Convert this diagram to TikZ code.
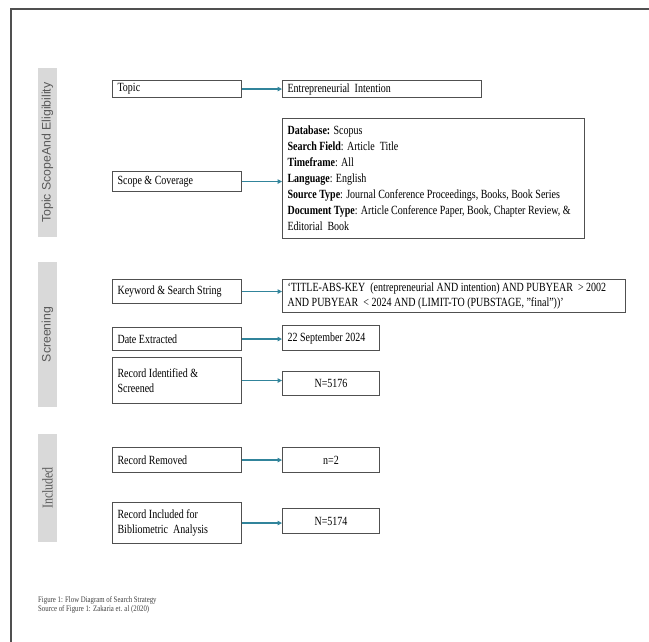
\documentclass[tikz,border=0pt]{standalone}
\usepackage{fontspec}
\setmainfont{Liberation Serif}[FakeStretch=0.8]
\newfontfamily\arialf{Liberation Sans}
\usetikzlibrary{arrows.meta}
\definecolor{tealarrow}{HTML}{31849B}
\definecolor{bargray}{HTML}{D9D9D9}
\definecolor{bartext}{HTML}{595959}
\definecolor{boxline}{HTML}{505050}
\definecolor{captext}{HTML}{404040}
\begin{document}
\begin{tikzpicture}[x=1pt,y=-1pt,
  basebox/.style={draw=boxline, line width=1.1pt, anchor=north west, inner xsep=5pt, inner ysep=0pt,
    font=\fontsize{12.5}{14.5}\selectfont, align=flush left},
  lbox/.style={basebox, text width=119pt},
  cbox/.style={basebox, text width=87pt, align=flush center},
  arr/.style={draw=tealarrow, line width=1.5pt, -{Triangle[length=4.5pt,width=4.5pt]}},
  bar/.style={fill=bargray, rotate=90, minimum height=19pt, inner sep=0pt, text=bartext},
]
\useasboundingbox (0,0) rectangle (649,642);
\draw[boxline, line width=1.2pt] (649,9) -- (11,9) -- (11,642);

% side bars
\node[bar, minimum width=169pt, font=\arialf\fontsize{12.3}{14}\selectfont] (b1) at (47.5,152.5) {Topic ScopeAnd Eligibility};
\node[bar, minimum width=145pt, font=\arialf\fontsize{12.3}{14}\selectfont] (b2) at (47.5,334.5) {Screening};
\node[bar, minimum width=108pt, font=\fontsize{15}{16}\selectfont] (b3) at (47.5,488) {Included};

% left boxes
\node[lbox, minimum height=17pt] (topic) at (112,80) {Topic};
\node[lbox, minimum height=20pt] (scopec) at (112,171) {Scope \& Coverage};
\node[lbox, minimum height=24pt] (kwl) at (112,279) {Keyword \& Search String};
\node[lbox, minimum height=23pt] (datel) at (112,327) {Date Extracted};
\node[lbox, minimum height=46pt] (recid) at (112,357) {Record Identified \&\\Screened};
\node[lbox, minimum height=25pt] (recrem) at (112,447) {Record Removed};
\node[lbox, minimum height=41pt] (recinc) at (112,502) {Record Included for\\Bibliometric\ \ Analysis};

% right boxes
\node[basebox, text width=189pt, minimum height=17pt] (ent) at (282,80) {Entrepreneurial\ \ Intention};
\node[basebox, text width=292pt, minimum height=120pt, font=\fontsize{12.5}{16}\selectfont] (scope) at (282,118)
 {\textbf{Database:} Scopus\\
  \textbf{Search Field}: Article\ \ Title\\
  \textbf{Timeframe}: All\\
  \textbf{Language}: English\\
  \textbf{Source Type}: Journal Conference Proceedings, Books, Book Series\\
  \textbf{Document Type}: Article Conference Paper, Book, Chapter Review, \&\\
  Editorial\ \ Book};
\node[basebox, text width=333pt, minimum height=33pt] (kw) at (282,279)
 {`TITLE-ABS-KEY\ \ (entrepreneurial AND intention) AND PUBYEAR\ \ > 2002\\
  AND PUBYEAR\ \ < 2024 AND (LIMIT-TO (PUBSTAGE, "final"))'};
\node[basebox, text width=87pt, minimum height=25pt] (date) at (282,325) {22 September 2024};
\node[cbox, minimum height=24pt] (n1) at (282,371) {N=5176};
\node[cbox, minimum height=25pt] (n2) at (282,447) {n=2};
\node[cbox, minimum height=25pt] (n3) at (282,508) {N=5174};

% arrows
\draw[arr] (topic.east) -- (ent.west |- topic.east);
\draw[arr] (scopec.east) -- (scope.west |- scopec.east);
\draw[arr] (kwl.east) -- (kw.west |- kwl.east);
\draw[arr] (datel.east) -- (date.west |- datel.east);
\draw[arr] (recid.east) -- (n1.west |- recid.east);
\draw[arr] (recrem.east) -- (n2.west |- recrem.east);
\draw[arr] (recinc.east) -- (n3.west |- recinc.east);

% caption
\node[anchor=north west, inner sep=0pt, align=flush left, text=captext, font=\fontsize{8.5}{9}\selectfont] (cap) at (38,596)
 {Figure 1: Flow Diagram of Search Strategy\\Source of Figure 1: Zakaria et. al (2020)};
\end{tikzpicture}
\end{document}
